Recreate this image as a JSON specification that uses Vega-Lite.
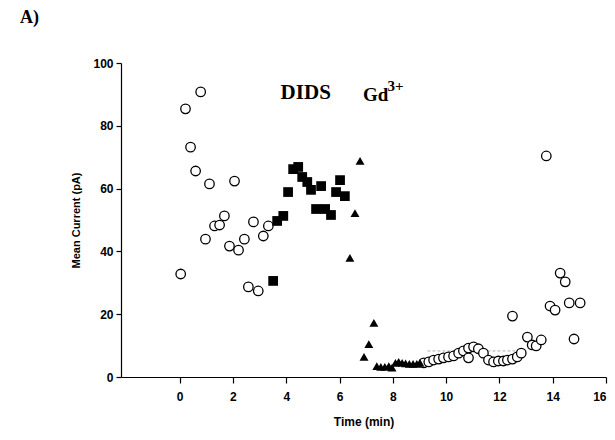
{
  "$schema": "https://vega.github.io/schema/vega-lite/v6.json",
  "width": 485,
  "height": 314,
  "autosize": "none",
  "padding": {"left": 121, "top": 63, "right": 9, "bottom": 63},
  "background": "white",
  "title": {"text": "A)", "anchor": "start", "frame": "group", "font": "Liberation Serif", "fontSize": 18, "fontWeight": "bold", "dx": -101, "offset": 30, "color": "black"},
  "datasets": {
    "circles": [
      {"t": 0.04, "v": 32.8}, {"t": 0.22, "v": 85.4}, {"t": 0.41, "v": 73.2}, {"t": 0.6, "v": 65.6},
      {"t": 0.79, "v": 90.8}, {"t": 0.97, "v": 43.9}, {"t": 1.12, "v": 61.5}, {"t": 1.31, "v": 48.1},
      {"t": 1.5, "v": 48.4}, {"t": 1.68, "v": 51.3}, {"t": 1.87, "v": 41.7}, {"t": 2.06, "v": 62.4},
      {"t": 2.21, "v": 40.4}, {"t": 2.43, "v": 43.9}, {"t": 2.58, "v": 28.7}, {"t": 2.77, "v": 49.4},
      {"t": 2.95, "v": 27.4}, {"t": 3.14, "v": 44.9}, {"t": 3.33, "v": 48.1},
      {"t": 9.16, "v": 4.5}, {"t": 9.35, "v": 4.8}, {"t": 9.53, "v": 5.4}, {"t": 9.72, "v": 5.7},
      {"t": 9.9, "v": 6.1}, {"t": 10.09, "v": 6.4}, {"t": 10.28, "v": 6.7}, {"t": 10.47, "v": 7.6},
      {"t": 10.65, "v": 8.3}, {"t": 10.84, "v": 9.2}, {"t": 10.84, "v": 6.1}, {"t": 11.03, "v": 9.6},
      {"t": 11.21, "v": 9.0}, {"t": 11.4, "v": 7.6}, {"t": 11.59, "v": 5.4}, {"t": 11.78, "v": 4.8},
      {"t": 11.96, "v": 5.1}, {"t": 12.15, "v": 5.1}, {"t": 12.3, "v": 5.4}, {"t": 12.49, "v": 5.7},
      {"t": 12.49, "v": 19.4}, {"t": 12.67, "v": 6.4}, {"t": 12.82, "v": 7.6}, {"t": 13.05, "v": 12.7},
      {"t": 13.23, "v": 10.2}, {"t": 13.38, "v": 9.9}, {"t": 13.57, "v": 11.8}, {"t": 13.76, "v": 70.4},
      {"t": 13.9, "v": 22.6}, {"t": 14.09, "v": 21.3}, {"t": 14.28, "v": 33.1}, {"t": 14.47, "v": 30.3},
      {"t": 14.62, "v": 23.6}, {"t": 14.8, "v": 12.1}, {"t": 15.03, "v": 23.6}
    ],
    "squares": [
      {"t": 3.51, "v": 30.6}, {"t": 3.66, "v": 49.7}, {"t": 3.89, "v": 51.3}, {"t": 4.07, "v": 58.9},
      {"t": 4.26, "v": 66.2}, {"t": 4.45, "v": 66.9}, {"t": 4.6, "v": 63.7}, {"t": 4.79, "v": 62.1},
      {"t": 4.93, "v": 59.6}, {"t": 5.12, "v": 53.5}, {"t": 5.31, "v": 60.8}, {"t": 5.46, "v": 53.5},
      {"t": 5.68, "v": 51.6}, {"t": 5.87, "v": 58.9}, {"t": 6.02, "v": 62.7}, {"t": 6.2, "v": 57.6}
    ],
    "triangles": [
      {"t": 6.39, "v": 37.9}, {"t": 6.58, "v": 52.2}, {"t": 6.77, "v": 68.8}, {"t": 6.92, "v": 6.4},
      {"t": 7.1, "v": 10.5}, {"t": 7.29, "v": 17.2}, {"t": 7.4, "v": 3.5}, {"t": 7.55, "v": 3.2},
      {"t": 7.7, "v": 3.2}, {"t": 7.85, "v": 3.5}, {"t": 7.97, "v": 3.0}, {"t": 8.1, "v": 4.5},
      {"t": 8.22, "v": 4.8}, {"t": 8.35, "v": 4.5}, {"t": 8.48, "v": 4.3}, {"t": 8.62, "v": 4.2},
      {"t": 8.76, "v": 4.2}, {"t": 8.9, "v": 4.2}, {"t": 9.02, "v": 4.5}
    ],
    "fit": [{"t": 9.3, "t2": 12.7, "v": 8.3}],
    "labels": [{"label": "DIDS", "t": 3.79, "v": 90.4}],
    "gd": [{"label": "Gd", "t": 6.88, "v": 89.8}],
    "sup": [{"label": "3+", "t": 7.8, "v": 92.6}]
  },
  "layer": [
    {
      "data": {"name": "fit"},
      "mark": {"type": "rule", "stroke": "#888888", "strokeWidth": 0.7, "strokeDash": [3, 2]},
      "encoding": {
        "x": {"field": "t", "type": "quantitative", "scale": {"domain": [-2.2, 16], "nice": false, "zero": false},
          "axis": {"values": [0, 2, 4, 6, 8, 10, 12, 14, 16], "title": "Time (min)", "tickSize": 6, "labelPadding": 8, "titlePadding": 14}},
        "x2": {"field": "t2"},
        "y": {"field": "v", "type": "quantitative", "scale": {"domain": [0, 100], "nice": false},
          "axis": {"values": [0, 20, 40, 60, 80, 100], "title": "Mean Current (pA)", "tickSize": 5, "labelPadding": 3, "titlePadding": 11, "titleFontSize": 11}}
      }
    },
    {
      "data": {"name": "circles"},
      "mark": {"type": "point", "shape": "circle", "filled": false, "stroke": "black", "strokeWidth": 1.3, "size": 90, "opacity": 1, "fill": "white", "fillOpacity": 1},
      "encoding": {
        "x": {"field": "t", "type": "quantitative"},
        "y": {"field": "v", "type": "quantitative"}
      }
    },
    {
      "data": {"name": "squares"},
      "mark": {"type": "point", "shape": "square", "filled": true, "color": "black", "size": 95, "opacity": 1},
      "encoding": {
        "x": {"field": "t", "type": "quantitative"},
        "y": {"field": "v", "type": "quantitative"}
      }
    },
    {
      "data": {"name": "triangles"},
      "mark": {"type": "point", "shape": "triangle-up", "filled": true, "color": "black", "size": 80, "opacity": 1},
      "encoding": {
        "x": {"field": "t", "type": "quantitative"},
        "y": {"field": "v", "type": "quantitative"}
      }
    },
    {
      "data": {"name": "labels"},
      "mark": {"type": "text", "font": "Liberation Serif", "fontSize": 21, "fontWeight": "bold", "align": "left", "baseline": "middle", "color": "black"},
      "encoding": {
        "x": {"field": "t", "type": "quantitative"},
        "y": {"field": "v", "type": "quantitative"},
        "text": {"field": "label"}
      }
    },
    {
      "data": {"name": "gd"},
      "mark": {"type": "text", "font": "Liberation Serif", "fontSize": 19, "fontWeight": "bold", "align": "left", "baseline": "middle", "color": "black"},
      "encoding": {
        "x": {"field": "t", "type": "quantitative"},
        "y": {"field": "v", "type": "quantitative"},
        "text": {"field": "label"}
      }
    },
    {
      "data": {"name": "sup"},
      "mark": {"type": "text", "font": "Liberation Serif", "fontSize": 15, "fontWeight": "bold", "align": "left", "baseline": "middle", "color": "black"},
      "encoding": {
        "x": {"field": "t", "type": "quantitative"},
        "y": {"field": "v", "type": "quantitative"},
        "text": {"field": "label"}
      }
    }
  ],
  "config": {
    "view": {"stroke": null},
    "axis": {
      "grid": false,
      "domainColor": "black",
      "domainWidth": 1.2,
      "tickColor": "black",
      "tickWidth": 1.2,
      "labelFont": "Liberation Sans",
      "labelFontWeight": "bold",
      "labelFontSize": 12,
      "labelColor": "black",
      "titleFont": "Liberation Sans",
      "titleFontWeight": "bold",
      "titleFontSize": 12,
      "titleColor": "black"
    }
  }
}
